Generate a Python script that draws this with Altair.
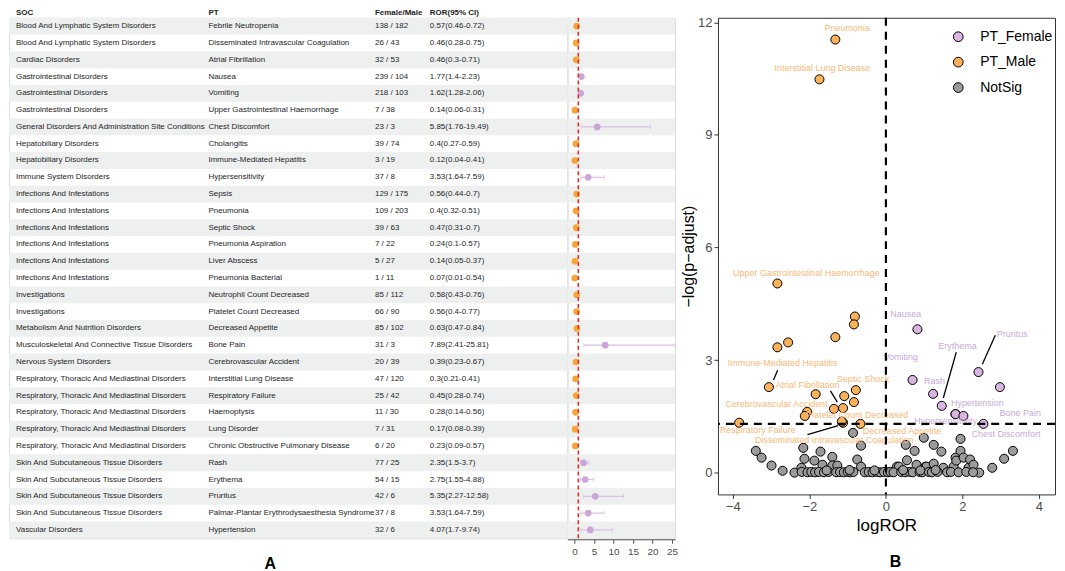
import math
import altair as alt
import pandas as pd

# ---------------- data ----------------
soc = [
    "Blood And Lymphatic System Disorders",
    "Blood And Lymphatic System Disorders",
    "Cardiac Disorders",
    "Gastrointestinal Disorders",
    "Gastrointestinal Disorders",
    "Gastrointestinal Disorders",
    "General Disorders And Administration Site Conditions",
    "Hepatobiliary Disorders",
    "Hepatobiliary Disorders",
    "Immune System Disorders",
    "Infections And Infestations",
    "Infections And Infestations",
    "Infections And Infestations",
    "Infections And Infestations",
    "Infections And Infestations",
    "Infections And Infestations",
    "Investigations",
    "Investigations",
    "Metabolism And Nutrition Disorders",
    "Musculoskeletal And Connective Tissue Disorders",
    "Nervous System Disorders",
    "Respiratory, Thoracic And Mediastinal Disorders",
    "Respiratory, Thoracic And Mediastinal Disorders",
    "Respiratory, Thoracic And Mediastinal Disorders",
    "Respiratory, Thoracic And Mediastinal Disorders",
    "Respiratory, Thoracic And Mediastinal Disorders",
    "Skin And Subcutaneous Tissue Disorders",
    "Skin And Subcutaneous Tissue Disorders",
    "Skin And Subcutaneous Tissue Disorders",
    "Skin And Subcutaneous Tissue Disorders",
    "Vascular Disorders",
]
pt = [
    "Febrile Neutropenia", "Disseminated Intravascular Coagulation", "Atrial Fibrillation",
    "Nausea", "Vomiting", "Upper Gastrointestinal Haemorrhage", "Chest Discomfort",
    "Cholangitis", "Immune-Mediated Hepatitis", "Hypersensitivity", "Sepsis", "Pneumonia",
    "Septic Shock", "Pneumonia Aspiration", "Liver Abscess", "Pneumonia Bacterial",
    "Neutrophil Count Decreased", "Platelet Count Decreased", "Decreased Appetite",
    "Bone Pain", "Cerebrovascular Accident", "Interstitial Lung Disease",
    "Respiratory Failure", "Haemoptysis", "Lung Disorder",
    "Chronic Obstructive Pulmonary Disease", "Rash", "Erythema", "Pruritus",
    "Palmar-Plantar Erythrodysaesthesia Syndrome", "Hypertension",
]
female = [138, 26, 32, 239, 218, 7, 23, 39, 3, 37, 129, 109, 39, 7, 5, 1, 85, 66, 85, 31,
          20, 47, 25, 11, 7, 6, 77, 54, 42, 37, 32]
male = [182, 43, 53, 104, 103, 38, 3, 74, 19, 8, 175, 203, 63, 22, 27, 11, 112, 90, 102, 3,
        39, 120, 42, 30, 31, 20, 25, 15, 6, 8, 6]
ror = [0.57, 0.46, 0.46, 1.77, 1.62, 0.14, 5.85, 0.4, 0.12, 3.53, 0.56, 0.4, 0.47, 0.24, 0.14,
       0.07, 0.58, 0.56, 0.63, 7.89, 0.39, 0.3, 0.45, 0.28, 0.17, 0.23, 2.35, 2.75, 5.35, 3.53, 4.07]
ci_lo = [0.46, 0.28, 0.3, 1.4, 1.28, 0.06, 1.76, 0.27, 0.04, 1.64, 0.44, 0.32, 0.31, 0.1, 0.05,
         0.01, 0.43, 0.4, 0.47, 2.41, 0.23, 0.21, 0.28, 0.14, 0.08, 0.09, 1.5, 1.55, 2.27, 1.64, 1.7]
ci_hi = [0.72, 0.75, 0.71, 2.23, 2.06, 0.31, 19.49, 0.59, 0.41, 7.59, 0.7, 0.51, 0.7, 0.57, 0.37,
         0.54, 0.76, 0.77, 0.84, 25.81, 0.67, 0.41, 0.74, 0.56, 0.39, 0.57, 3.7, 4.88, 12.58, 7.59, 9.74]
# -log10(adjusted p), same order as pt
neglogp = [4.16, 1.33, 1.72, 3.82, 2.47, 5.04, 1.30, 3.61, 2.28, 1.56, 3.95, 11.54, 2.04, 1.62,
           3.34, 1.33, 2.20, 1.88, 1.30, 2.28, 1.70, 10.48, 1.36, 2.09, 3.47, 1.51, 2.10, 1.78,
           2.68, 1.56, 1.51]

# non-significant PTs (logROR, -log10 p-adjust)
ns_x = [-3.40, -3.25, -2.99, -2.70, -2.39, -2.21, -2.16, -2.13, -1.87, -1.71, -1.66, -1.40,
        -1.40, -1.27, -0.86, -0.75, -0.65, -0.65, 0.29, 0.34, 0.52, 0.55, 0.75, 0.80, 0.99,
        1.03, 1.06, 1.25, 1.25, 1.45, 1.50, 1.77, 1.82, 1.84, 1.95, 1.95, 2.03, 2.16, 2.20,
        2.29, 2.44, 2.78, 3.09, 3.32,
        -2.20, -2.05, -1.95, -1.85, -1.75, -1.62, -1.50, -1.30, -1.20, -1.10, -1.00, -0.92,
        -0.85, -0.55, -0.45, -0.35, -0.25, -0.15, -0.05, 0.05, 0.12, 0.20, 0.40, 0.50, 0.62,
        0.70, 0.88, 0.95, 1.12, 1.20, 1.35, 1.60, 1.70, 1.90, 2.10, 2.28,
        -1.55, -0.95, -0.30, 0.45, 0.90, 1.30]
ns_y = [0.58, 0.40, 0.19, 0.05, 0.00, 0.13, 0.66, 0.37, 0.32, 0.56, 0.21, 0.42,
        0.19, 0.19, 1.06, 0.35, 0.72, 0.16, 0.16, 0.16, 0.74, 0.33, 0.58, 0.21, 0.93,
        0.16, 0.16, 0.74, 0.24, 0.56, 0.13, 0.16, 0.40, 0.32, 0.90, 0.58, 0.40, 0.13, 0.35,
        0.21, 0.00, 0.13, 0.37, 0.58,
        0.02, 0.01, 0.02, 0.01, 0.02, 0.01, 0.02, 0.01, 0.02, 0.01, 0.02, 0.01,
        0.02, 0.01, 0.02, 0.01, 0.02, 0.01, 0.02, 0.01, 0.02, 0.01, 0.02, 0.01, 0.02,
        0.01, 0.02, 0.01, 0.02, 0.01, 0.02, 0.01, 0.02, 0.01, 0.02, 0.01,
        0.06, 0.07, 0.06, 0.07, 0.06, 0.07]

# repelled labels (text anchor in data units) and their leader segments
lab_text = ["Pneumonia", "Interstitial Lung Disease", "Upper Gastrointestinal Haemorrhage",
            "Immune-Mediated Hepatitis", "Atrial Fibrillation", "Septic Shock",
            "Cerebrovascular Accident", "Platelet Count Decreased", "Respiratory Failure",
            "Disseminated Intravascular Coagulation", "Decreased Appetite",
            "Nausea", "Vomiting", "Erythema", "Pruritus", "Rash", "Hypertension",
            "Bone Pain", "Hypersensitivity", "Chest Discomfort"]
lab_x = [-1.01, -1.66, -2.08, -2.70, -2.05, -0.60, -2.86, -0.75, -3.35, -1.35, 0.42,
         0.52, 0.39, 1.87, 3.30, 1.27, 2.39, 3.51, 1.56, 3.14]
lab_y = [11.86, 10.77, 5.33, 2.92, 2.33, 2.49, 1.83, 1.54, 1.13, 0.86, 1.11,
         4.24, 3.08, 3.37, 3.69, 2.44, 1.86, 1.59, 1.38, 1.03]
lab_grp = ["M"] * 11 + ["F"] * 9
seg_x = [-2.83, -1.45, -2.05, 1.84, 2.86]
seg_y = [2.73, 2.18, 1.01, 3.21, 3.66]
seg_x2 = [-2.94, -1.27, -1.25, 1.50, 2.52]
seg_y2 = [2.47, 1.88, 1.25, 1.99, 2.89]

# ---------------- style ----------------
ORANGE = "#f8a53c"
PURPLE = "#cba6d8"
ORANGE_L = "#f9c48a"
PURPLE_L = "#d9bfe3"
BAND = "#eef0f0"
FONT = "Liberation Sans"

W_TABLE, W_FOREST, H_ROWS = 560, 108, 522
W_VOL, H_VOL = 338, 478

rows = list(range(1, len(pt) + 1))
df = pd.DataFrame({
    "row": rows, "soc": soc, "pt": pt,
    "fm": [f"{f} / {m}" for f, m in zip(female, male)],
    "rorci": [f"{r}({a}-{b})" for r, a, b in zip(ror, ci_lo, ci_hi)],
    "ror": ror, "lo": ci_lo, "hi": ci_hi,
    "grp": ["Female" if r > 1 else "Male" for r in ror],
})

ycode = alt.Y("row:O", scale=alt.Scale(domain=rows, paddingInner=0, paddingOuter=0), axis=None)

# ---------------- table ----------------
band_t = alt.Chart(df).transform_filter("datum.row % 2 == 1").mark_rect(color=BAND).encode(
    y=ycode, x=alt.value(0), x2=alt.value(W_TABLE + 2))


def text_col(field, xpos):
    return alt.Chart(df).mark_text(align="left", baseline="middle", fontSize=8, font=FONT,
                                   color="#1e1e1e").encode(
        y=ycode, x=alt.value(xpos), text=f"{field}:N")


def header(label, xpos):
    return alt.Chart(pd.DataFrame({"h": [label]})).mark_text(
        align="left", baseline="middle", fontSize=8, font=FONT, fontWeight="bold",
        color="#1e1e1e").encode(x=alt.value(xpos), y=alt.value(-4.5), text="h:N")


table = alt.layer(
    band_t,
    text_col("soc", 7), text_col("pt", 200), text_col("fm", 367), text_col("rorci", 422),
    header("SOC", 7), header("PT", 200), header("Female/Male", 367), header("ROR(95% CI)", 422),
).properties(
    width=W_TABLE, height=H_ROWS,
    title=alt.TitleParams("A", orient="bottom", anchor="middle", dx=-18, offset=18,
                          fontSize=16, fontWeight="bold", font=FONT, color="black"),
)

# ---------------- forest ----------------
fscale = alt.Scale(domain=[-1.8, 25.8], nice=False, zero=False)
faxis = alt.Axis(values=[0, 5, 10, 15, 20, 25], title=None, grid=False, labelFontSize=10,
                 labelColor="#4d4d4d", tickColor="#4d4d4d", domainColor="#4d4d4d",
                 tickSize=4, labelPadding=3, offset=1, labelFont=FONT)

band_f = alt.Chart(df).transform_filter("datum.row % 2 == 1").mark_rect(color=BAND).encode(
    y=ycode, x=alt.value(0), x2=alt.value(W_FOREST))


def forest_layers(group, col_pt, col_line):
    d = alt.Chart(df).transform_filter(f"datum.grp == '{group}'")
    err = d.mark_rule(color=col_line, strokeWidth=1.2).encode(
        y=ycode, x=alt.X("lo:Q", scale=fscale, axis=faxis), x2="hi:Q")
    cap_l = d.mark_tick(color=col_line, thickness=1, size=5).encode(
        y=ycode, x=alt.X("lo:Q", scale=fscale, axis=faxis))
    cap_h = d.mark_tick(color=col_line, thickness=1, size=5).encode(
        y=ycode, x=alt.X("hi:Q", scale=fscale, axis=faxis))
    pts = d.mark_circle(color=col_pt, opacity=1, size=45).encode(
        y=ycode, x=alt.X("ror:Q", scale=fscale, axis=faxis))
    return [err, cap_l, cap_h, pts]


ref_line = alt.Chart(pd.DataFrame({"v": [1]})).mark_rule(
    color="#d8322a", strokeDash=[4, 3], strokeWidth=1.6).encode(
    x=alt.X("v:Q", scale=fscale, axis=faxis))

forest = alt.layer(
    band_f,
    *forest_layers("Female", PURPLE, PURPLE_L),
    *forest_layers("Male", ORANGE, ORANGE_L),
    ref_line,
).properties(width=W_FOREST, height=H_ROWS)

# ---------------- volcano ----------------
sig_cls = ["PT_Female" if r > 1 else "PT_Male" for r in ror]
vdf = pd.concat([
    pd.DataFrame({"x": ns_x, "y": ns_y, "cls": "NotSig"}),
    pd.DataFrame({"x": [math.log2(r) for r in ror], "y": neglogp, "cls": sig_cls}),
], ignore_index=True)

vx_scale = alt.Scale(domain=[-4.39, 4.42], nice=False, zero=False)
vy_scale = alt.Scale(domain=[-0.58, 12.12], nice=False, zero=False)
vx_axis = alt.Axis(values=[-4, -2, 0, 2, 4], title="logROR", grid=False, domain=False,
                   labelFontSize=13, labelColor="#4d4d4d", tickColor="#333333", tickSize=4,
                   labelPadding=2, titleFontSize=17, titleFontWeight="normal",
                   titleColor="black", titlePadding=4, labelFont=FONT, titleFont=FONT)
vy_axis = alt.Axis(values=[0, 3, 6, 9, 12], title="−log(p−adjust)", grid=False, domain=False,
                   labelFontSize=13, labelColor="#4d4d4d", tickColor="#333333", tickSize=4,
                   labelPadding=2, titleFontSize=16, titleFontWeight="normal",
                   titleColor="black", titlePadding=1, labelFont=FONT, titleFont=FONT)
VX = alt.X("x:Q", scale=vx_scale, axis=vx_axis)
VY = alt.Y("y:Q", scale=vy_scale, axis=vy_axis)

points = alt.Chart(vdf).mark_circle(size=82, opacity=1, stroke="black", strokeWidth=1).encode(
    x=VX, y=VY,
    color=alt.Color("cls:N",
                    scale=alt.Scale(domain=["PT_Female", "PT_Male", "NotSig"],
                                    range=["#d8b6e1", "#fab25a", "#9b9b9b"]),
                    legend=alt.Legend(title=None, orient="none", legendX=945, legendY=12,
                                      padding=0, labelFontSize=14, labelFont=FONT,
                                      labelColor="black", symbolType="circle", symbolSize=95,
                                      symbolStrokeColor="black", symbolStrokeWidth=1,
                                      rowPadding=11.5, labelOffset=15)),
)

ldf = pd.DataFrame({"x": lab_x, "y": lab_y, "t": lab_text, "g": lab_grp})
labels_m = alt.Chart(ldf).transform_filter("datum.g == 'M'").mark_text(
    fontSize=9, font=FONT, color="#f9b878").encode(x=VX, y=VY, text="t:N")
labels_f = alt.Chart(ldf).transform_filter("datum.g == 'F'").mark_text(
    fontSize=9, font=FONT, color="#c9a9d7").encode(x=VX, y=VY, text="t:N")

sdf = pd.DataFrame({"x": seg_x, "y": seg_y, "x2": seg_x2, "y2": seg_y2})
segments = alt.Chart(sdf).mark_rule(color="black", strokeWidth=1.3).encode(
    x=VX, y=VY, x2="x2:Q", y2="y2:Q")

vline = alt.Chart(pd.DataFrame({"x": [0]})).mark_rule(
    color="black", strokeDash=[8, 6], strokeWidth=2.2).encode(x=VX)
hline = alt.Chart(pd.DataFrame({"y": [-math.log10(0.05)]})).mark_rule(
    color="black", strokeDash=[8, 6], strokeWidth=2.2).encode(y=VY)

volcano = alt.layer(points, labels_m, labels_f, segments, vline, hline).properties(
    width=W_VOL, height=H_VOL,
    view=alt.ViewBackground(stroke="#333333", strokeWidth=1),
    title=alt.TitleParams("B", orient="bottom", anchor="middle", dx=9, offset=21,
                          fontSize=16, fontWeight="bold", font=FONT, color="black"),
)

left = alt.hconcat(table, forest, spacing=0, bounds="flush")
chart = alt.hconcat(left, volcano, spacing=2).properties(padding=0).configure_view(
    stroke=None).configure(font=FONT)

chart.save("out.html", embed_options={"renderer": "svg", "actions": False})
